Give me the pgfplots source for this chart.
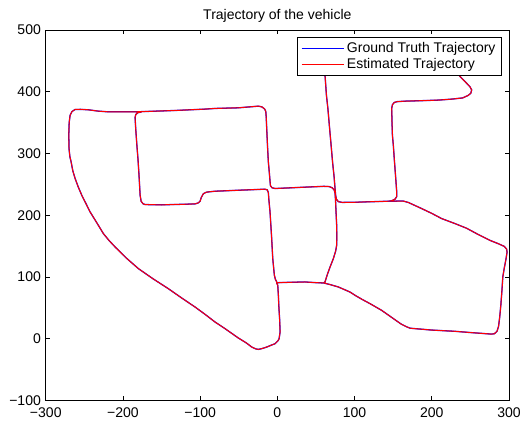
\documentclass[border=0pt]{standalone}
\usepackage{fontspec}
\setmainfont{Liberation Sans}
\usepackage{pgfplots}
\usepackage{pgfplotstable}
\pgfplotsset{compat=1.18}

\pgfplotstableread{
x y
60.5 445
62 422
63.5 395
65.5 372
67.7 340
69.7 312
71.5 286
73.5 262
74.7 243
75.5 232
76.5 226
79 222
84 220.8
100 221
113.5 221.6
143.7 222.7
163 223
170 220.5
186.9 210.8
200 203
212.8 194.6
230 186.5
245 179
260.3 168.7
275 159.5
286 154
294 149.5
297 145
297.5 140
296 128
294 115
292 100
291 80
289.5 55
288 35
286.5 20
284.5 12
281 8
277 7.5
250 10
230 12
200 14
172 17
167 19.5
160 24
135 46
120 56.8
110 63.5
100.6 70.3
94.1 75.6
79 83.8
68 87.8
60 90.3
61.7 92
65 105
68.5 117
72.5 129.7
75.5 142
76.8 151.3
77 165
76.8 183.8
76 205
75.3 225
74.7 236
73.5 241
71 244.5
67 246.5
60 246.8
45 246
27.2 245
10 244
-3 243.3
-7 244.5
-9 248
-9.5 255
-10.5 270
-11.7 286.5
-12.7 310
-13.8 340
-14.5 360
-15 368
-16.5 372
-20 375.5
-24.6 376.7
-50.5 374
-80.7 373
-93.7 371.9
-132.5 369.7
-160 368.5
-184.3 367.5
-218.9 367.5
-231.8 368.6
-244.8 370.8
-255 371.5
-262 371.3
-266 368
-268.5 362
-269.7 350
-270.2 330
-269.9 308
-268.8 295
-267.2 286.5
-265 272
-262 259.5
-258 246
-253.4 232.4
-248 219
-242.6 205.4
-234 188
-225.4 170.3
-218 159
-210.2 148.6
-196 131
-180 113.5
-161 97
-141.2 81
-124 66
-106.6 51.3
-93.7 39.5
-80.7 27
-67.7 16.2
-50.5 1.1
-40 -7
-33.2 -13.5
-28 -16.5
-24.6 -17.3
-20 -16
-13.8 -13.5
-7 -10
-3 -8.1
1 -3
2.2 0
3.2 8
3.5 10.8
3 30
2 50
1.3 70
0.5 86.5
-0.9 90
nan nan
222 447
230 434
238.7 422
245 414
249.5 408
251.7 403
250.5 397.5
247 394
240 390
225 388
208.5 386.5
185 385.5
165.3 384.8
155 384
151.5 382.7
149 379
148.1 373
148.5 350
149 330
150.2 313.5
151.5 290
153 265
154.6 237.8
154.5 230
152.4 226
148 223.5
143.7 222.7
nan nan
60 90.3
50 90.8
35.8 91.9
20 91.5
5 91
1.3 90.8
-0.9 90
nan nan
-176 367.3
-181 366
-183.5 363
-184.3 358
-183.5 340
-182 313.5
-180.5 290
-179 260
-177.8 232.4
-176.5 222.7
-174 218.5
-171.3 217.3
-150 216.8
-136.8 217.3
-120 217.8
-106.6 218.4
-102.5 220
-100.1 222.7
-98.5 229
-95.8 235
-92 237.3
-89.3 237.8
-80.7 238.9
-50.5 240.5
-20 242
-16 242.2
-13 241
-11.7 236.7
-11 225
-9.5 205
-8.5 185
-7.5 165
-6 130
-3.9 102.7
-2.5 96
-0.9 92
-0.9 90
}\traj

\begin{document}
\fontsize{10.5}{12.6}\selectfont
\begin{tikzpicture}
\useasboundingbox (-34.3pt,-15pt) rectangle (362pt,300pt);
\begin{axis}[
  at={(0,0)}, anchor=south west,
  scale only axis, width=347pt, height=277.5pt,
  xmin=-300, xmax=300, ymin=-100, ymax=500,
  xtick={-300,-200,-100,0,100,200,300},
  xticklabels={−300,−200,−100,0,100,200,300},
  ytick={-100,0,100,200,300,400,500},
  yticklabels={−100,0,100,200,300,400,500},
  tick align=inside, major tick length=3pt,
  xtick pos=both, ytick pos=both,
  xticklabel pos=lower, yticklabel pos=left,
  /pgf/number format/assume math mode=true,
  ticklabel style={font=\fontsize{10.5}{12.6}\selectfont},
  xticklabel style={yshift=-1.7pt},
  axis line style={line width=0.7pt},
  every tick/.style={line width=0.7pt, black},
  title={Trajectory of the vehicle},
  every axis title shift=0pt,
  title style={at={(0.5,1)}, anchor=base, yshift=8pt, font=\fontsize{10.5}{12.6}\selectfont},
  legend style={at={(1,1)}, anchor=north east, xshift=-5.25pt, yshift=-5.25pt,
    draw=black, line width=0.7pt, fill=white, inner xsep=3pt, inner ysep=2pt,
    row sep=0pt, font=\fontsize{10.5}{12.6}\selectfont,
    nodes={inner xsep=1.5pt, inner ysep=1.5pt}},
  legend cell align=left,
  legend image code/.code={\draw[#1] (0pt,0pt) -- (32pt,0pt);},
  unbounded coords=jump,
]
\addplot[blue, line width=0.95pt] table {\traj};
\addlegendentry{Ground Truth Trajectory}
\addplot[red, line width=0.75pt] table {\traj};
\addlegendentry{Estimated Trajectory}
\end{axis}
\end{tikzpicture}
\end{document}
